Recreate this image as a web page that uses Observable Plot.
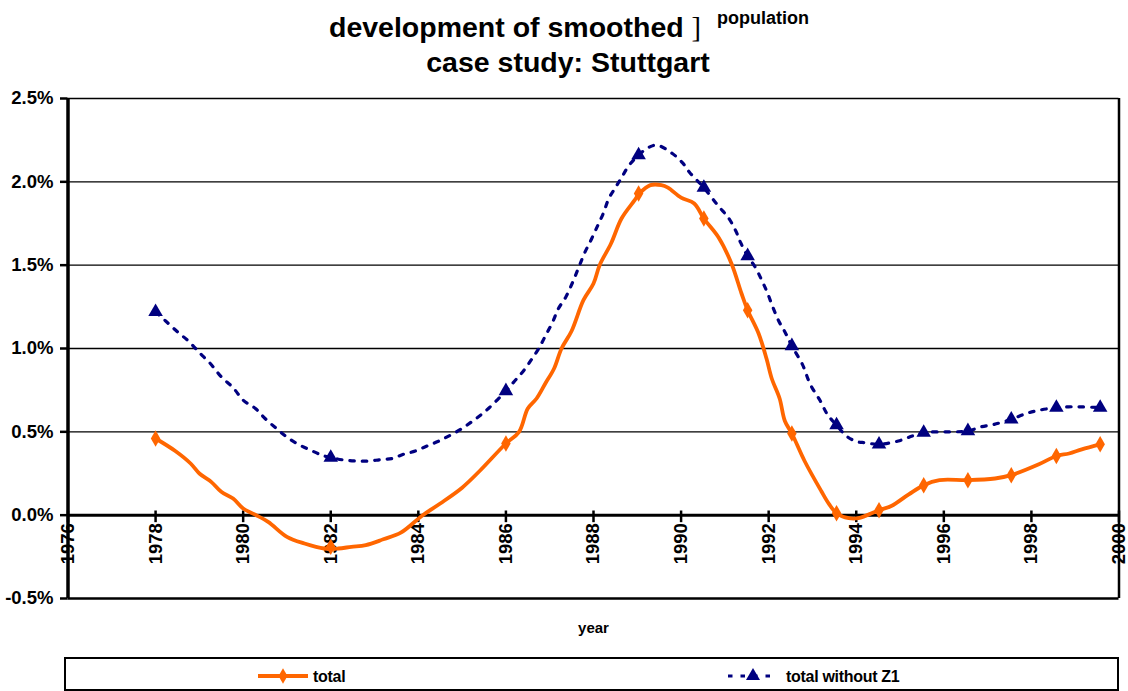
<!DOCTYPE html>
<html>
<head>
<meta charset="utf-8">
<script src="https://cdn.jsdelivr.net/npm/d3@7"></script>
<script src="https://cdn.jsdelivr.net/npm/@observablehq/plot@0.6"></script>
<style>
  html, body { margin: 0; padding: 0; background: #fff; }
  #page { position: relative; width: 1128px; height: 691px; overflow: hidden; font-family: "Liberation Sans", Arial, sans-serif; }
  .title { position: absolute; left: 0; width: 1128px; text-align: center; font-weight: bold; font-size: 28.5px; line-height: 28px; color: #000; white-space: nowrap; }
  .br { font-family: "Liberation Serif", "DejaVu Serif", serif; font-weight: normal; }
  .sup { font-size: 18px; position: relative; top: -13px; margin-left: 8px; }
  #chart { position: absolute; left: 0; top: 80px; }
  #legend { position: absolute; left: 64px; top: 657px; width: 1055px; height: 34px; box-sizing: border-box; border: 2px solid #000; }
  #legend svg { position: absolute; left: -2px; top: -2px; }
</style>
</head>
<body>
<div id="page">
  <div class="title" style="top:13px; left:5px;">development of smoothed <span class="br">]</span> <span class="sup">population</span></div>
  <div class="title" style="top:48px; left:4px;">case study: Stuttgart</div>
  <div id="chart"></div>
  <div id="legend"></div>
</div>
<script>
// ---- data ----
const totalYears = [1978.0,1978.45,1978.8,1979.0,1979.27,1979.5,1979.77,1980.0,1980.25,1980.57,1981.0,1981.4,1981.85,1982.17,1982.47,1982.8,1983.2,1983.6,1984.1,1984.5,1985.0,1985.4,1986.0,1986.3,1986.5,1986.7,1986.9,1987.1,1987.27,1987.5,1987.77,1988.0,1988.14,1988.4,1988.64,1988.94,1989.05,1989.3,1989.55,1989.7,1990.0,1990.3,1990.52,1990.86,1991.15,1991.38,1991.52,1991.77,1991.95,1992.07,1992.25,1992.37,1992.53,1992.82,1993.2,1993.38,1993.55,1993.83,1994.05,1994.52,1994.8,1995.2,1995.54,1995.9,1996.55,1997.17,1997.54,1998.17,1998.57,1998.86,1999.15,1999.57];
const totalValues = [0.46,0.385,0.31,0.25,0.20,0.14,0.10,0.04,0.006,-0.04,-0.13,-0.17,-0.20,-0.20,-0.19,-0.18,-0.145,-0.105,0.0,0.07,0.165,0.265,0.43,0.50,0.64,0.70,0.79,0.88,1.0,1.105,1.29,1.39,1.50,1.63,1.78,1.89,1.93,1.98,1.98,1.965,1.905,1.87,1.78,1.665,1.51,1.33,1.23,1.09,0.94,0.82,0.70,0.565,0.49,0.325,0.145,0.066,0.012,-0.018,-0.018,0.03,0.055,0.125,0.18,0.21,0.21,0.22,0.24,0.305,0.355,0.37,0.395,0.425];

const z1Years = [1978.0,1978.23,1978.5,1978.77,1979.0,1979.25,1979.5,1979.77,1980.0,1980.28,1980.5,1980.76,1980.99,1981.26,1981.54,1981.8,1982.0,1982.33,1982.6,1982.87,1983.13,1983.4,1983.66,1983.93,1984.2,1984.47,1984.73,1985.0,1985.24,1985.47,1985.72,1986.0,1986.2,1986.4,1986.6,1986.75,1986.9,1987.06,1987.2,1987.36,1987.52,1987.66,1987.8,1987.96,1988.1,1988.23,1988.35,1988.5,1988.64,1988.8,1989.03,1989.25,1989.45,1989.8,1990.03,1990.2,1990.52,1990.85,1991.08,1991.25,1991.36,1991.52,1991.7,1991.85,1991.97,1992.1,1992.23,1992.38,1992.53,1992.77,1992.95,1993.18,1993.34,1993.55,1993.8,1994.03,1994.2,1994.52,1994.96,1995.28,1995.54,1995.85,1996.2,1996.55,1996.85,1997.15,1997.54,1997.88,1998.18,1998.57,1998.85,1999.15,1999.57];
const z1Values = [1.22,1.165,1.10,1.04,0.975,0.91,0.83,0.765,0.69,0.64,0.58,0.52,0.47,0.425,0.39,0.36,0.345,0.33,0.325,0.325,0.333,0.34,0.365,0.385,0.415,0.445,0.48,0.52,0.565,0.61,0.67,0.745,0.805,0.865,0.94,1.0,1.075,1.155,1.24,1.305,1.395,1.485,1.575,1.66,1.74,1.815,1.9,1.965,2.025,2.095,2.16,2.205,2.22,2.17,2.115,2.055,1.965,1.855,1.785,1.705,1.635,1.555,1.485,1.405,1.335,1.245,1.165,1.095,1.015,0.905,0.785,0.685,0.605,0.54,0.47,0.44,0.435,0.425,0.445,0.475,0.495,0.5,0.5,0.505,0.53,0.545,0.575,0.61,0.63,0.645,0.65,0.65,0.645];

const markerYears = [1978.0,1982.0,1986.0,1989.03,1990.52,1991.52,1992.53,1993.55,1994.52,1995.54,1996.55,1997.54,1998.57,1999.57];
const totalMarkerValues = [0.46,-0.19,0.43,1.93,1.78,1.23,0.49,0.012,0.03,0.18,0.21,0.24,0.355,0.425];
const z1MarkerValues = [1.22,0.345,0.745,2.16,1.965,1.555,1.015,0.54,0.425,0.495,0.505,0.575,0.645,0.645];

const xTickYears = [1976,1978,1980,1982,1984,1986,1988,1990,1992,1994,1996,1998,2000];
const yTicks = [-0.5,0.0,0.5,1.0,1.5,2.0,2.5];
const gridValues = [0.5,1.0,1.5,2.0,2.5];

const seriesNames = ["total", "total without Z1"];
const seriesColors = ["#FF6600", "#000080"];

// ---- chart ----
const chart = Plot.plot({
  width: 1128,
  height: 565,
  marginLeft: 67.5,
  marginRight: 9.5,
  marginTop: 18,
  marginBottom: 47,
  style: { fontFamily: "'Liberation Sans', Arial, sans-serif", fontWeight: "bold", fontSize: "18px", color: "#000", background: "#fff" },
  x: { domain: [1976, 2000], axis: null },
  y: { domain: [-0.5, 2.5], axis: null },
  marks: [
    Plot.ruleY(gridValues, { stroke: "#000", strokeWidth: 1.4 }),
    Plot.ruleY([-0.5], { stroke: "#000", strokeWidth: 2.5 }),
    Plot.ruleX([2000], { stroke: "#000", strokeWidth: 2.5 }),
    Plot.axisY({ ticks: yTicks, tickSize: 7.5, tickPadding: 7, tickFormat: d => d.toFixed(1) + "%", strokeWidth: 2.5, fontSize: 18.5, fontWeight: "bold", fill: "#000" }),
    Plot.ruleY([0], { stroke: "#000", strokeWidth: 3 }),
    Plot.ruleX(xTickYears, { x: d => d, y1: 0.025, y2: -0.045, stroke: "#000", strokeWidth: 2.5 }),
    Plot.text(xTickYears, { x: d => d, y: 0, text: d => String(d), rotate: -90, textAnchor: "end", lineAnchor: "middle", dy: 8, fontSize: 18.5, fontWeight: "bold", fill: "#000" }),
    Plot.ruleX([1976], { stroke: "#000", strokeWidth: 3.5 }),
    Plot.text(["year"], { frameAnchor: "bottom", dy: 34, fontSize: 15, fontWeight: "bold", fill: "#000", letterSpacing: "-0.5px" }),
    Plot.line(z1Values, { x: z1Years, y: z1Values, stroke: seriesColors[1], strokeWidth: 3.2, strokeDasharray: "4.5,8", curve: "catmull-rom" }),
    Plot.line(totalValues, { x: totalYears, y: totalValues, stroke: seriesColors[0], strokeWidth: 3.8, curve: "catmull-rom" }),
    Plot.dot(totalMarkerValues, { x: markerYears, y: totalMarkerValues, symbol: "diamond", r: 5, fill: seriesColors[0], stroke: "none" }),
    Plot.dot(z1MarkerValues, { x: markerYears, y: z1MarkerValues, symbol: "triangle", r: 5.4, fill: seriesColors[1], stroke: "none" })
  ]
});
document.getElementById("chart").appendChild(chart);

// ---- legend ----
const lg = d3.select("#legend").append("svg").attr("width", 1055).attr("height", 34);
const items = [
  { x0: 194, name: seriesNames[0], color: seriesColors[0], dash: null, sym: d3.symbolDiamond, size: 70, sw: 3.8 },
  { x0: 664, name: seriesNames[1], color: seriesColors[1], dash: "4.5,8", sym: d3.symbolTriangle, size: 85, sw: 3.2 }
];
items.forEach(it => {
  lg.append("line").attr("x1", it.x0).attr("x2", it.x0 + 50).attr("y1", 19).attr("y2", 19)
    .attr("stroke", it.color).attr("stroke-width", it.sw).attr("stroke-dasharray", it.dash);
  lg.append("path").attr("d", d3.symbol(it.sym, it.size)()).attr("transform", `translate(${it.x0 + 25},19)`).attr("fill", it.color);
  lg.append("text").attr("x", it.x0 + (it.dash ? 58 : 55)).attr("y", 25).text(it.name)
    .attr("font-family", "'Liberation Sans', Arial, sans-serif").attr("font-weight", "bold").attr("font-size", 16).attr("letter-spacing", "-0.3px").attr("fill", "#000");
});
</script>
</body>
</html>
